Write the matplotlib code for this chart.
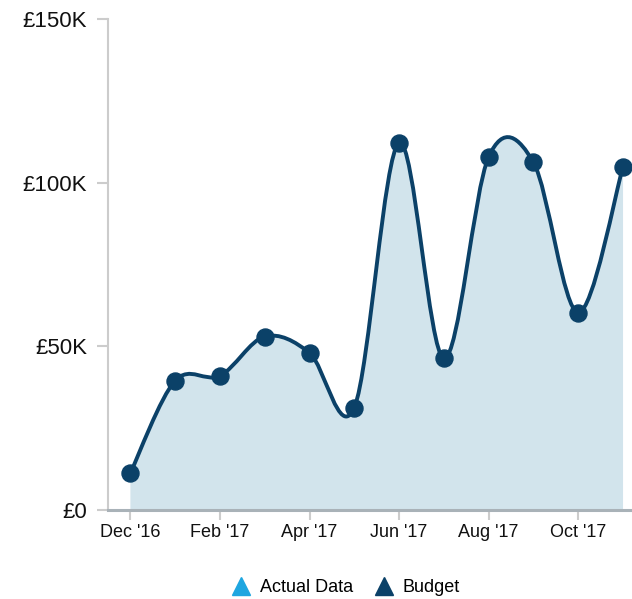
import matplotlib.pyplot as plt
from matplotlib.path import Path
from matplotlib.patches import PathPatch
from matplotlib.lines import Line2D

months = ["Dec '16", "Jan '17", "Feb '17", "Mar '17", "Apr '17", "May '17",
          "Jun '17", "Jul '17", "Aug '17", "Sep '17", "Oct '17", "Nov '17"]
budget = [11.3, 39.5, 41.0, 53.0, 48.0, 31.3, 112.2, 46.3, 107.9, 106.2, 60.3, 104.9]  # in K
y_ticks = [0, 50, 100, 150]
y_labels = ['£0', '£50K', '£100K', '£150K']

plt.rcParams['font.family'] = ['Liberation Sans', 'DejaVu Sans']

line_col = '#0b4168'
fill_col = '#d2e4ec'
light_col = '#1ea6e0'

xs = list(range(len(budget)))
pts = list(zip(xs, budget))

# smooth curve through the points (catmull-rom -> cubic bezier)
verts = [pts[0]]
codes = [Path.MOVETO]
for i in range(len(pts) - 1):
    p0 = pts[i - 1] if i > 0 else pts[i]
    p1 = pts[i]
    p2 = pts[i + 1]
    p3 = pts[i + 2] if i + 2 < len(pts) else pts[i + 1]
    c1 = (p1[0] + (p2[0] - p0[0]) / 6, p1[1] + (p2[1] - p0[1]) / 6)
    c2 = (p2[0] - (p3[0] - p1[0]) / 6, p2[1] - (p3[1] - p1[1]) / 6)
    verts += [c1, c2, p2]
    codes += [Path.CURVE4] * 3

fill_verts = [(xs[0], 0)] + verts + [(xs[-1], 0), (xs[0], 0)]
fill_codes = [Path.MOVETO, Path.LINETO] + codes[1:] + [Path.LINETO, Path.CLOSEPOLY]

fig = plt.figure(figsize=(6.32, 5.99), dpi=100)
ax = fig.add_axes([0.1709, 0.1486, 0.8291, 0.8197])

ax.add_patch(PathPatch(Path(fill_verts, fill_codes), facecolor=fill_col, edgecolor='none', zorder=1))
ax.add_patch(PathPatch(Path(verts, codes), facecolor='none', edgecolor=line_col, lw=2.8, zorder=2,
                       capstyle='round', joinstyle='round'))
ax.scatter(xs, budget, s=150, color=line_col, zorder=3, clip_on=False)

ax.set_xlim(-0.5, 11.2)
ax.set_ylim(0, 150)
ax.set_yticks(y_ticks)
ax.set_yticklabels(y_labels, fontsize=16)
ax.set_xticks(xs[::2])
ax.set_xticklabels(months[::2], fontsize=13)

for s in ['top', 'right']:
    ax.spines[s].set_visible(False)
ax.spines['left'].set_color('#cccccc')
ax.spines['left'].set_linewidth(1.5)
ax.spines['bottom'].set_color('#a9b2b8')
ax.spines['bottom'].set_linewidth(2.2)
ax.spines['bottom'].set_zorder(4)
ax.tick_params(axis='y', length=8, width=1.5, color='#cccccc', pad=7, labelcolor='#111111')
ax.tick_params(axis='x', length=7, width=1.5, color='#cccccc', pad=3, labelcolor='#111111')

handles = [Line2D([], [], marker='^', ls='none', color=light_col, markersize=13, label='Actual Data'),
           Line2D([], [], marker='^', ls='none', color=line_col, markersize=13, label='Budget')]
fig.legend(handles=handles, loc='center', bbox_to_anchor=(0.54, 0.019), ncol=2, frameon=False,
           fontsize=13, handletextpad=0.05, columnspacing=0.7)

plt.savefig('out.png', dpi=100)
